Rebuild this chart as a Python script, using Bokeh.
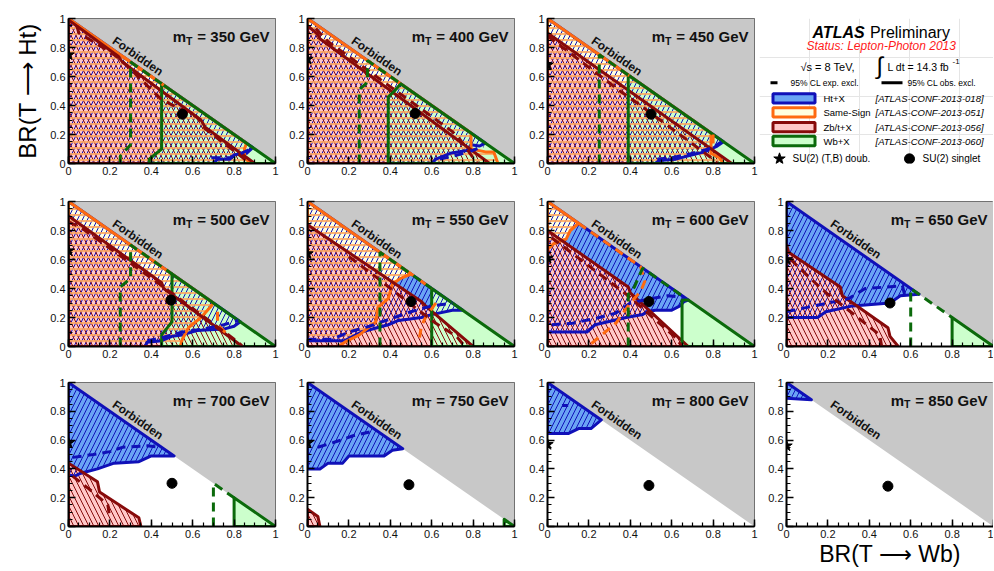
import math
import numpy as np
from bokeh.plotting import figure
from bokeh.layouts import column, row
from bokeh.models import Range1d, FixedTicker, CustomJSTickFormatter
from bokeh.core.properties import value
from bokeh.embed import file_html
from bokeh.resources import INLINE

# ---------------- data ----------------
MASSES = [350, 400, 450, 500, 550, 600, 650, 700, 750, 800, 850]
STAR_Y = [0.75, 0.72, 0.68, 0.66, 0.64, 0.61, 0.60, 0.58, 0.58, 0.57, 0.56]
DOT_X = [0.55, 0.52, 0.50, 0.495, 0.50, 0.49, 0.50, 0.50, 0.49, 0.49, 0.49]
DOT_Y = [0.34, 0.345, 0.34, 0.32, 0.31, 0.31, 0.30, 0.30, 0.29, 0.285, 0.28]

TICKS = [0, 0.2, 0.4, 0.6, 0.8, 1.0]
MINOR_TICKS = [i * 0.05 for i in range(21)]
FORBIDDEN_X = [0, 1, 1]
FORBIDDEN_Y = [1, 1, 0]

# Ht+X (ATLAS-CONF-2013-018)
HT_OBS = {
    350: [(0, 0), (0, 1), (0.89, 0.11), (0.86, 0.07), (0.8, 0.06), (0.78, 0.03), (0.72, 0.03), (0.7, 0)],
    400: [(0, 0), (0, 1), (0.86, 0.14), (0.83, 0.12), (0.79, 0.13), (0.77, 0.09), (0.69, 0.07), (0.62, 0.03), (0.6, 0)],
    450: [(0, 0), (0, 1), (0.85, 0.15), (0.82, 0.12), (0.76, 0.08), (0.7, 0.06), (0.62, 0.03), (0.54, 0.02), (0.52, 0)],
    500: [(0, 0), (0, 1), (0.83, 0.17), (0.8, 0.14), (0.75, 0.12), (0.62, 0.11), (0.55, 0.08), (0.5, 0.07), (0.45, 0.04), (0.38, 0.03), (0.37, 0)],
    550: [(0, 0.04), (0, 1), (0.75, 0.25), (0.7, 0.25), (0.6, 0.22), (0.55, 0.2), (0.44, 0.18), (0.39, 0.15), (0.26, 0.1), (0.18, 0.04)],
    600: [(0, 0.1), (0, 1), (0.68, 0.32), (0.66, 0.31), (0.64, 0.28), (0.6, 0.25), (0.52, 0.25), (0.48, 0.24), (0.46, 0.22), (0.38, 0.2), (0.23, 0.15), (0.19, 0.1)],
    650: [(0, 0.2), (0, 1), (0.64, 0.36), (0.55, 0.35), (0.5, 0.3), (0.32, 0.28), (0.19, 0.24), (0.15, 0.2)],
    700: [(0, 0.36), (0, 1), (0.51, 0.49), (0.4, 0.49), (0.34, 0.45), (0.22, 0.44), (0.14, 0.4), (0.06, 0.37), (0.03, 0.35)],
    750: [(0, 0.4), (0, 1), (0.46, 0.54), (0.41, 0.53), (0.37, 0.49), (0.2, 0.49), (0.17, 0.44), (0.1, 0.44), (0.06, 0.4)],
    800: [(0, 0.645), (0, 1), (0.26, 0.74), (0.21, 0.68), (0.15, 0.68), (0.1, 0.645)],
    850: [(0, 0.89), (0, 1), (0.12, 0.88)],
}
HT_EXP = {
    350: [(0.69, 0.04), (0.78, 0.04), (0.82, 0.06), (0.88, 0.1)],
    400: [(0.64, 0.03), (0.7, 0.05), (0.78, 0.08), (0.85, 0.12)],
    450: [(0.53, 0.03), (0.6, 0.04), (0.7, 0.07), (0.8, 0.11), (0.84, 0.15)],
    500: [(0.38, 0.04), (0.45, 0.06), (0.55, 0.1), (0.65, 0.12), (0.75, 0.15), (0.82, 0.18)],
    550: [(0, 0.05), (0.12, 0.05), (0.2, 0.1), (0.3, 0.14), (0.42, 0.2), (0.5, 0.24), (0.6, 0.28), (0.7, 0.3)],
    600: [(0.02, 0.15), (0.12, 0.16), (0.25, 0.2), (0.33, 0.23), (0.4, 0.3), (0.5, 0.33), (0.58, 0.35), (0.66, 0.34)],
    650: [(0, 0.24), (0.1, 0.27), (0.2, 0.3), (0.3, 0.33), (0.38, 0.4), (0.48, 0.41), (0.56, 0.42), (0.57, 0.36)],
    700: [(0.02, 0.48), (0.12, 0.5), (0.2, 0.52), (0.26, 0.55), (0.38, 0.56), (0.45, 0.55)],
    750: [(0.05, 0.55), (0.14, 0.59), (0.22, 0.63), (0.31, 0.66)],
    800: [(0.07, 0.84), (0.1, 0.84)],
}
# Same-Sign (ATLAS-CONF-2013-051)
SS_OBS = {
    350: [(0, 0), (0, 1), (0.86, 0.14), (0.85, 0.1), (0.85, 0.04), (0.88, 0)],
    400: [(0, 0), (0, 1), (0.79, 0.21), (0.79, 0.1), (0.86, 0.08), (0.9, 0.08), (0.92, 0)],
    450: [(0, 0), (0, 1), (0.79, 0.21), (0.79, 0.07), (0.83, 0.04), (0.85, 0)],
    500: [(0, 0), (0, 1), (0.7, 0.3), (0.69, 0.28), (0.64, 0.2), (0.58, 0.13), (0.55, 0.05), (0.54, 0)],
    550: [(0, 0), (0, 1), (0.5, 0.5), (0.45, 0.47), (0.41, 0.43), (0.39, 0.33), (0.34, 0.27), (0.33, 0.17), (0.25, 0.08), (0.18, 0.03), (0.15, 0)],
    600: [(0, 0.67), (0, 1), (0.15, 0.85), (0.11, 0.8), (0.09, 0.74), (0.03, 0.71)],
}
SS_EXP = {
    350: [(0.26, 0.74), (0.46, 0.54)],
    400: [(0.29, 0.71), (0.46, 0.54)],
    450: [(0.24, 0.76), (0.4, 0.6), None, (0.8, 0.2), (0.8, 0.1)],
    500: [(0.29, 0.71), (0.49, 0.51), None, (0.72, 0.24), (0.72, 0.15), (0.77, 0.08)],
    550: [(0.36, 0.64), (0.6, 0.4), None, (0.62, 0.3), (0.57, 0.2), (0.55, 0.14), (0.54, 0.05)],
    600: [(0.15, 0.85), (0.45, 0.55), (0.47, 0.45), (0.45, 0.38), (0.4, 0.3), (0.33, 0.16), (0.22, 0.03), (0.2, 0)],
}
# Zb/t+X (ATLAS-CONF-2013-056)
ZB_OBS = {
    350: [(0, 0), (0, 0.99), (0.24, 0.74), (0.26, 0.7), (0.64, 0.3), (0.66, 0.25), (0.9, 0)],
    400: [(0, 0), (0, 0.95), (0.05, 0.89), (0.06, 0.86), (0.88, 0)],
    450: [(0, 0), (0, 0.9), (0.89, 0)],
    500: [(0, 0), (0, 0.9), (0.45, 0.44), (0.46, 0.4), (0.84, 0)],
    550: [(0, 0), (0, 0.84), (0.55, 0.31), (0.57, 0.28), (0.8, 0)],
    600: [(0, 0), (0, 0.8), (0.39, 0.41), (0.4, 0.37), (0.68, 0)],
    650: [(0, 0), (0, 0.7), (0.01, 0.65), (0.26, 0.41), (0.27, 0.35), (0.49, 0.13), (0.5, 0.07), (0.54, 0)],
    700: [(0, 0), (0, 0.44), (0.14, 0.31), (0.15, 0.24), (0.34, 0.06), (0.35, 0)],
    750: [(0, 0), (0, 0.12), (0.05, 0.07), (0.06, 0)],
}
ZB_EXP = {
    350: [(0.04, 0.95), (0.05, 0.9), (0.2, 0.77), (0.25, 0.72), (0.45, 0.44), (0.62, 0.32), (0.66, 0.24), (0.86, 0.02)],
    400: [(0.04, 0.93), (0.1, 0.84), (0.7, 0.22), (0.74, 0.16), (0.8, 0.04), (0.82, 0)],
    450: [(0, 0.88), (0.35, 0.5), (0.44, 0.41), (0.8, 0.03), (0.82, 0)],
    500: [(0, 0.86), (0.06, 0.82), (0.44, 0.43), (0.82, 0.03), (0.84, 0)],
    550: [(0.2, 0.62), (0.34, 0.47), (0.41, 0.39), (0.5, 0.29), (0.62, 0.16), (0.72, 0.07), (0.76, 0)],
    600: [(0.02, 0.75), (0.39, 0.35), (0.62, 0.06), (0.65, 0)],
    650: [(0.02, 0.6), (0.13, 0.45), (0.2, 0.36), (0.3, 0.25), (0.45, 0.08), (0.46, 0)],
    700: [(0.02, 0.35), (0.1, 0.26), (0.19, 0.15), (0.2, 0.05)],
}
# Wb+X (ATLAS-CONF-2013-060)
WB_OBS = {
    350: [(0.39, 0), (0.39, 0.03), (0.45, 0.1), (0.45, 0.55), (1, 0)],
    400: [(0.39, 0), (0.39, 0.46), (0.42, 0.5), (0.45, 0.55), (1, 0)],
    450: [(0.39, 0), (0.39, 0.61), (1, 0)],
    500: [(0.45, 0), (0.45, 0.08), (0.5, 0.17), (0.5, 0.5), (1, 0)],
    550: [(0.6, 0), (0.6, 0.4), (1, 0)],
    600: [(0.65, 0), (0.65, 0.32), (0.68, 0.32), (1, 0)],
    650: [(0.8, 0), (0.8, 0.2), (1, 0)],
    700: [(0.8, 0), (0.8, 0.2), (1, 0)],
    750: [(0.95, 0), (0.95, 0.05), (1, 0)],
}
WB_EXP = {
    350: [(0.25, 0), (0.25, 0.05), (0.3, 0.13), (0.3, 0.7), (0.45, 0.55)],
    400: [(0.25, 0), (0.25, 0.51), (0.29, 0.56), (0.29, 0.71), (0.45, 0.55)],
    450: [(0.25, 0), (0.25, 0.75), (0.39, 0.61)],
    500: [(0.25, 0), (0.25, 0.41), (0.3, 0.47), (0.3, 0.7), (0.5, 0.5)],
    550: [(0.35, 0), (0.35, 0.65), (0.6, 0.4)],
    600: [(0.39, 0), (0.39, 0.36), (0.42, 0.41), (0.44, 0.48), (0.46, 0.54), (0.65, 0.35)],
    650: [(0.6, 0), (0.6, 0.4), (0.8, 0.2)],
    700: [(0.7, 0), (0.7, 0.3), (0.8, 0.2)],
}

LEGEND_NAMES = ["Ht+X", "Same-Sign", "Zb/t+X", "Wb+X"]
LEGEND_REFS = ["[ATLAS-CONF-2013-018]", "[ATLAS-CONF-2013-051]",
               "[ATLAS-CONF-2013-056]", "[ATLAS-CONF-2013-060]"]

# ---------------- style ----------------
FONT = "Liberation Sans"
C_BLUE, F_BLUE = "#1010b8", "#6aa4f4"
C_ORANGE, F_YELLOW, H_ORANGE = "#ff6a10", "#ffffe0", "#ffa860"
C_RED, F_PINK = "#870a0a", "#ffc8c8"
C_GREEN, F_GREEN = "#0b6a0b", "#ccffcc"
GRAY = "#c8c8c8"

FRAME_W, FRAME_H = 207, 145
COL_L = [68, 27, 28, 27]
COL_R = [5, 5, 5, 0]
ROW_T = [18, 14, 17]
ROW_B = [24, 19, 42]


def xy(pts):
    xs = np.array([p[0] if p is not None else np.nan for p in pts], dtype=float)
    ys = np.array([p[1] if p is not None else np.nan for p in pts], dtype=float)
    return xs, ys


def panel(idx, r, c):
    m = MASSES[idx]
    p = figure(width=COL_L[c] + FRAME_W + COL_R[c], height=ROW_T[r] + FRAME_H + ROW_B[r],
               x_range=Range1d(0, 1), y_range=Range1d(0, 1), title=None,
               output_backend="svg", toolbar_location=None, tools="",
               min_border_left=COL_L[c], min_border_right=COL_R[c],
               min_border_top=ROW_T[r], min_border_bottom=ROW_B[r])
    p.background_fill_color = "white"
    p.border_fill_color = "white"
    p.outline_line_color = "#555555"
    p.outline_line_width = 1
    p.grid.visible = False
    for ax in (p.xaxis[0], p.yaxis[0]):
        ax.ticker = FixedTicker(ticks=TICKS, minor_ticks=MINOR_TICKS)
        ax.formatter = CustomJSTickFormatter(
            code="return (Math.abs(tick) < 1e-9) ? '0' : (Math.abs(tick-1) < 1e-9 ? '1' : tick.toFixed(1));")
        ax.major_tick_in = 7
        ax.major_tick_out = 0
        ax.minor_tick_in = 4
        ax.minor_tick_out = 0
        ax.axis_line_width = 2
        ax.major_tick_line_width = 1.5
        ax.minor_tick_line_width = 1.2
        ax.major_label_text_font = FONT
        ax.major_label_text_font_size = "11px"
        ax.major_label_text_color = "#111111"
        ax.major_label_standoff = 3

    # forbidden region
    p.patch(FORBIDDEN_X, FORBIDDEN_Y, fill_color=GRAY, line_color=None)

    layers = [(HT_OBS, HT_EXP, C_BLUE, F_BLUE),
              (SS_OBS, SS_EXP, C_ORANGE, F_YELLOW),
              (ZB_OBS, ZB_EXP, C_RED, F_PINK),
              (WB_OBS, WB_EXP, C_GREEN, F_GREEN)]
    # fills
    for obs, exp, lc, fc in layers:
        if m in obs:
            xs, ys = xy(obs[m])
            p.patch(xs, ys, fill_color=fc, line_color=None)
    # hatches
    hatches = [(HT_OBS, "/", C_BLUE, 10, 1.0), (ZB_OBS, "\\", C_RED, 10, 1.0),
               (SS_OBS, "-", H_ORANGE, 6, 1.7)]
    for obs, pat, hc, sc, wt in hatches:
        if m in obs:
            xs, ys = xy(obs[m])
            p.patch(xs, ys, fill_color=None, line_color=None, hatch_pattern=pat,
                    hatch_color=hc, hatch_scale=sc, hatch_weight=wt)
    # observed outlines
    for obs, exp, lc, fc in layers:
        if m in obs:
            xs, ys = xy(obs[m])
            p.patch(xs, ys, fill_color=None, line_color=lc, line_width=3, line_join="round")
    # expected (dashed)
    for obs, exp, lc, fc in layers:
        if m in exp:
            xs, ys = xy(exp[m])
            p.line(xs, ys, line_color=lc, line_width=3, line_dash="9 6")

    # Forbidden label
    ang = -math.atan2(FRAME_H, FRAME_W)
    p.text(x=[0.335], y=[0.74], text=["Forbidden"], angle=ang, text_font=value(FONT),
           text_font_size="12px", text_font_style="bold", text_color="#111111",
           text_align="center", text_baseline="middle")

    # mass title
    xr = 1 - 6 / FRAME_W
    yb = 0.875
    rest = "= %d GeV" % m
    p.text(x=[xr], y=[yb], text=[rest], text_font=value(FONT), text_font_size="15px",
           text_font_style="bold", text_color="#111111", text_align="right", text_baseline="alphabetic")
    p.text(x=[xr], y=[yb - 4 / FRAME_H], text=["T"], x_offset=-77, text_font=value(FONT),
           text_font_size="10.5px", text_font_style="bold", text_color="#111111",
           text_align="right", text_baseline="alphabetic")
    p.text(x=[xr], y=[yb], text=["m"], x_offset=-83.5, text_font=value(FONT), text_font_size="15px",
           text_font_style="bold", text_color="#111111", text_align="right", text_baseline="alphabetic")

    # benchmark points
    p.scatter([0], [STAR_Y[idx]], marker="star", size=12, fill_color="black", line_color="black")
    p.scatter([DOT_X[idx]], [DOT_Y[idx]], marker="circle", size=10, fill_color="black", line_color="black")
    return p


def legend_fig():
    W = COL_L[3] + FRAME_W + COL_R[3]
    H = ROW_T[0] + FRAME_H + ROW_B[0]
    p = figure(width=W, height=H, x_range=Range1d(0, W), y_range=Range1d(H, 0), title=None,
               output_backend="svg", toolbar_location=None, tools="",
               x_axis_location=None, y_axis_location=None, min_border=0)
    p.outline_line_color = None
    p.background_fill_color = "white"
    p.border_fill_color = "white"
    f = value(FONT)

    p.text(x=[53], y=[18], text=["ATLAS"], text_font=f, text_font_size="16px",
           text_font_style="bold italic", text_align="left", text_baseline="middle", text_color="black")
    p.text(x=[110.4], y=[18], text=["Preliminary"], text_font=f, text_font_size="16px",
           text_align="left", text_baseline="middle", text_color="black")
    p.text(x=[47], y=[35], text=["Status: Lepton-Photon 2013"], text_font=f, text_font_size="12px",
           text_font_style="italic", text_align="left", text_baseline="middle", text_color="#ff1a1a")
    p.text(x=[41], y=[62], text=["\u221as = 8 TeV,"], text_font=f, text_font_size="11px",
           text_align="left", text_baseline="middle", text_color="black")
    p.text(x=[117], y=[61], text=["\u222b"], text_font=f, text_font_size="24px",
           text_align="left", text_baseline="middle", text_color="black")
    p.text(x=[128], y=[62], text=["L dt = 14.3 fb"], text_font=f, text_font_size="10.5px",
           text_align="left", text_baseline="middle", text_color="black")
    p.text(x=[193], y=[56], text=["-1"], text_font=f, text_font_size="8px",
           text_align="left", text_baseline="middle", text_color="black")

    yl = 83
    p.line([11, 18], [yl, yl], line_color="black", line_width=3)
    p.text(x=[31], y=[yl], text=["95% CL exp. excl."], text_font=f, text_font_size="8.5px",
           text_align="left", text_baseline="middle", text_color="black")
    p.line([122, 143], [yl, yl], line_color="black", line_width=3)
    p.text(x=[148], y=[yl], text=["95% CL obs. excl."], text_font=f, text_font_size="8.5px",
           text_align="left", text_baseline="middle", text_color="black")

    box_y = [103, 121, 140, 158]
    p.rect(x=[34.5] * 4, y=box_y, width=42, height=12,
           fill_color=[F_BLUE, F_YELLOW, F_PINK, F_GREEN],
           line_color=[C_BLUE, C_ORANGE, C_RED, C_GREEN], line_width=3)
    p.text(x=[64] * 4, y=box_y, text=LEGEND_NAMES, text_font=f, text_font_size="9.5px",
           text_align="left", text_baseline="middle", text_color="black")
    p.text(x=[116] * 4, y=box_y, text=LEGEND_REFS, text_font=f, text_font_size="9.5px",
           text_font_style="italic", text_align="left", text_baseline="middle", text_color="black")

    ys = 181
    p.scatter([20], [ys], marker="star", size=12, fill_color="black", line_color="black")
    p.text(x=[33], y=[ys], text=["SU(2) (T,B) doub."], text_font=f, text_font_size="10px",
           text_align="left", text_baseline="middle", text_color="black")
    p.scatter([150], [ys], marker="circle", size=10, fill_color="black", line_color="black")
    p.text(x=[163], y=[ys], text=["SU(2) singlet"], text_font=f, text_font_size="10px",
           text_align="left", text_baseline="middle", text_color="black")
    return p


cells = [[(0, 0), (1, 1), (2, 2), None],
         [(3, 0), (4, 1), (5, 2), (6, 3)],
         [(7, 0), (8, 1), (9, 2), (10, 3)]]
rows = []
for r, cl in enumerate(cells):
    figs = []
    for c, cell in enumerate(cl):
        if cell is None:
            figs.append(legend_fig())
        else:
            figs.append(panel(cell[0], r, c))
    rows.append(figs)

# axis titles
ylab = rows[0][0].yaxis[0]
ylab.axis_label = "BR(T \u27f6 Ht)"
ylab.axis_label_text_font = FONT
ylab.axis_label_text_font_size = "24px"
ylab.axis_label_text_font_style = "normal"
ylab.axis_label_text_color = "black"
ylab.axis_label_standoff = 6
xlab = rows[2][3].xaxis[0]
xlab.axis_label = "BR(T \u27f6 Wb)"
xlab.axis_label_text_font = FONT
xlab.axis_label_text_font_size = "23px"
xlab.axis_label_text_font_style = "normal"
xlab.axis_label_text_color = "black"
xlab.axis_label_standoff = 0

layout = column(*[row(*fs) for fs in rows])
open("out.html", "w").write(file_html(layout, INLINE))
